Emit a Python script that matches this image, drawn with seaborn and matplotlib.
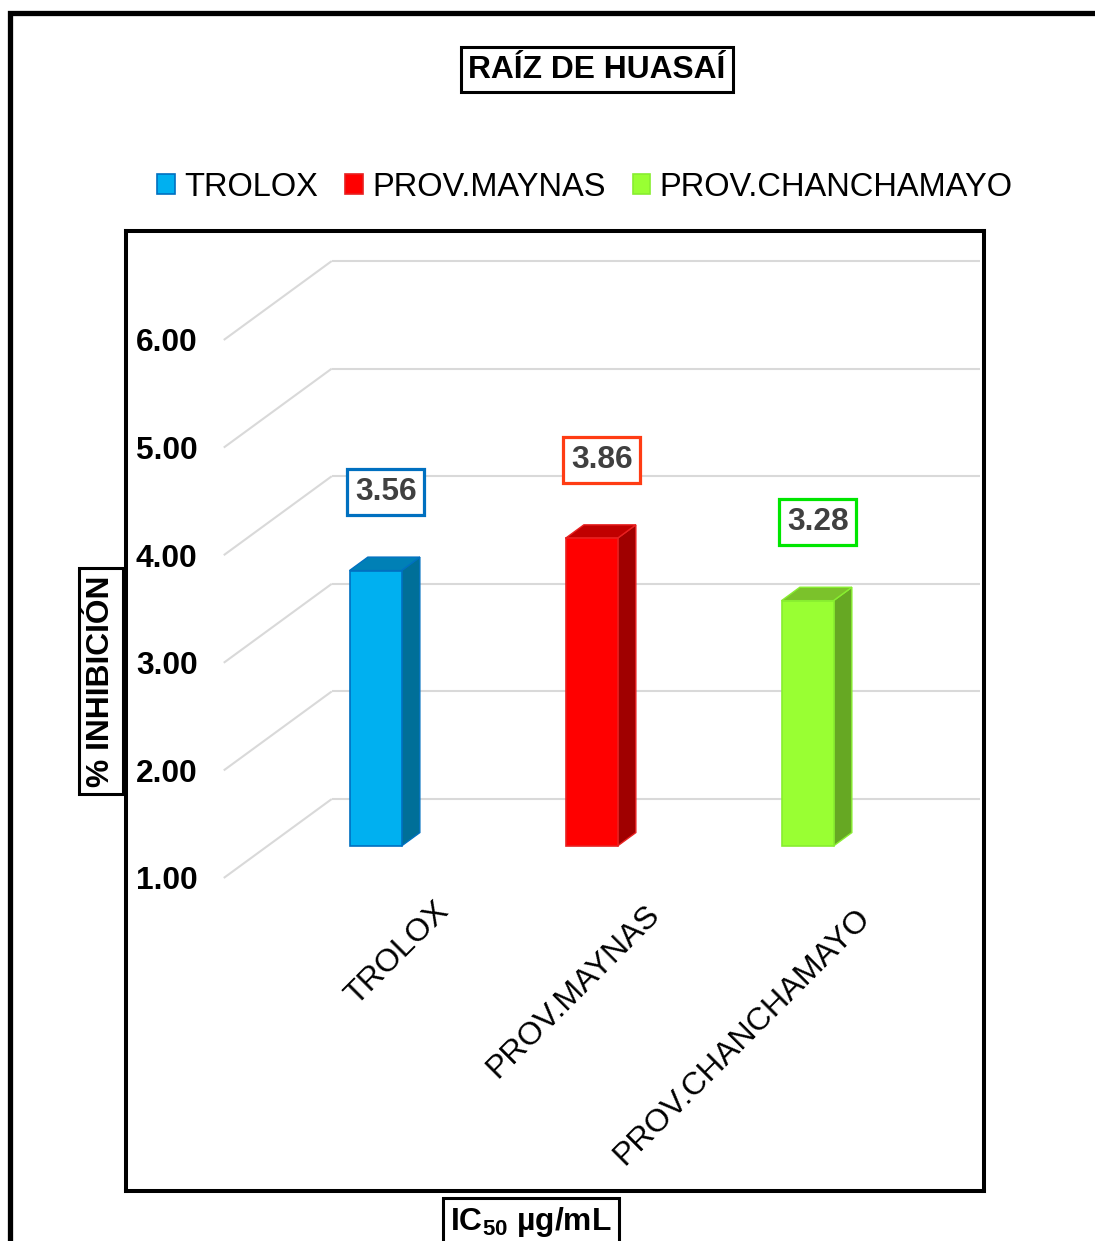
import matplotlib
matplotlib.use("Agg")
import matplotlib.pyplot as plt
from matplotlib.patches import Polygon, Patch, Rectangle
import seaborn as sns
import pandas as pd

# ---- data -------------------------------------------------------------
categories = ["TROLOX", "PROV.MAYNAS", "PROV.CHANCHAMAYO"]
ic50_values = [3.56, 3.86, 3.28]
y_ticks = [1.0, 2.0, 3.0, 4.0, 5.0, 6.0]
y_tick_labels = ["1.00", "2.00", "3.00", "4.00", "5.00", "6.00"]
axis_base = 1.0

front_colors = ["#00B0F0", "#FF0000", "#99FF33"]
side_colors = ["#006F98", "#A00000", "#66A823"]
top_colors = ["#0080B6", "#C00000", "#7BC22B"]
edge_colors = ["#0070C0", "#E82020", "#88EE30"]
label_box_colors = ["#0070C0", "#FF3C14", "#00E600"]

# ---- style -------------------------------------------------------------
sns.set_theme(style="white")
plt.rcParams["font.family"] = ["Liberation Sans", "DejaVu Sans"]
plt.rcParams["text.color"] = "black"
plt.rcParams["mathtext.fontset"] = "custom"
plt.rcParams["mathtext.rm"] = "Liberation Sans:bold"
plt.rcParams["mathtext.it"] = "Liberation Sans:bold"
plt.rcParams["mathtext.bf"] = "Liberation Sans:bold"

W, H, DPI = 1095, 1241, 100
FS = 22.9       # bold labels (points)
FS_LEG = 23.5   # legend entries
FS_CAT = 23.2   # category labels

fig = plt.figure(figsize=(W / DPI, H / DPI), dpi=DPI)
fig.patch.set_facecolor("white")

# plot-area box in pixels
L, R, T, B = 126, 984, 231, 1191
ax = fig.add_axes([L / W, 1 - B / H, (R - L) / W, (B - T) / H])

# oblique projection: depth z in [0, 1] from the front plane to the back wall,
# data coordinates are those of the plane the bars sit on (z = Z_BAR)
DX, DY, Z_BAR = 0.5, 0.734, 0.405
BAR_DEPTH = 0.17


def proj(x, y, z):
    return x + (z - Z_BAR) * DX, y + (z - Z_BAR) * DY


x_px_per_unit = 216.0
y_px_per_unit = 107.6
x0_px, base_px = 375.5, 846.0

# ---- bars (front faces) ------------------------------------------------
df = pd.DataFrame({"cat": categories,
                   "height": [v - axis_base for v in ic50_values]})
bar_w = 52 / x_px_per_unit
sns.barplot(data=df, x="cat", y="height", hue="cat", palette=front_colors,
            saturation=1, width=bar_w, legend=False, ax=ax,
            bottom=axis_base, linewidth=1.2, zorder=4)
for p, ec in zip(ax.patches, edge_colors):
    p.set_edgecolor(ec)

ax.set_xlim((L - x0_px) / x_px_per_unit, (R - x0_px) / x_px_per_unit)
ax.set_ylim(axis_base - (B - base_px) / y_px_per_unit,
            axis_base + (base_px - T) / y_px_per_unit)

# ---- gridlines: side wall diagonals and back wall horizontals ----------
wall_left, wall_right = -0.5, 2.5
grid_kw = dict(color="#D9D9D9", lw=1.5, zorder=1, solid_capstyle="butt")
for t in y_ticks:
    xa, ya = proj(wall_left, t, 0.0)
    xb, yb = proj(wall_left, t, 1.0)
    xc, yc = proj(wall_right, t, 1.0)
    ax.plot([xa, xb], [ya, yb], **grid_kw)
    ax.plot([xb, xc], [yb, yc], **grid_kw)

# side and top faces, value labels
ddx, ddy = BAR_DEPTH * DX, BAR_DEPTH * DY
for i, v in enumerate(ic50_values):
    xl, xr = i - bar_w / 2, i + bar_w / 2
    side = Polygon([(xr, axis_base), (xr, v), (xr + ddx, v + ddy),
                    (xr + ddx, axis_base + ddy)], closed=True,
                   facecolor=side_colors[i], edgecolor=edge_colors[i],
                   lw=1.0, zorder=3)
    top = Polygon([(xl, v), (xr, v), (xr + ddx, v + ddy), (xl + ddx, v + ddy)],
                  closed=True, facecolor=top_colors[i],
                  edgecolor=edge_colors[i], lw=1.0, zorder=3)
    ax.add_patch(side)
    ax.add_patch(top)
    ax.text(i + 0.047, v + 0.73, f"{v:.2f}", ha="center", va="center",
            fontsize=FS, fontweight="bold", color="#404040", zorder=6,
            bbox=dict(boxstyle="square,pad=0.25", facecolor="white",
                      edgecolor=label_box_colors[i], linewidth=2.3))

# ---- axes decoration ---------------------------------------------------
front_ticks = [proj(0, t, 0.0)[1] for t in y_ticks]
ax.set_yticks(front_ticks, labels=y_tick_labels)
ax.tick_params(axis="y", length=0, pad=-51.5, labelsize=FS)
for lab in ax.get_yticklabels():
    lab.set_fontweight("bold")
    lab.set_color("black")
    lab.set_horizontalalignment("right")
ax.set_xticks([])
ax.set_xlabel("")
ax.set_ylabel("")

# category labels, rotated and anchored at their right end
for i, name in enumerate(categories):
    n = len(name)
    ax.text(i + (76 - 1.15 * n) / x_px_per_unit,
            axis_base - (56 + 0.7 * n) / y_px_per_unit, name, rotation=45,
            rotation_mode="anchor", ha="right", va="center",
            fontsize=FS_CAT, color="black", zorder=5)

for s in ax.spines.values():
    s.set_visible(True)
    s.set_color("black")
    s.set_linewidth(2.9)

# ---- title, legend, axis titles ---------------------------------------
fig.text(597 / W, 1 - 69.5 / H, "RAÍZ DE HUASAÍ", ha="center", va="center",
         fontsize=FS, fontweight="bold", color="black",
         bbox=dict(boxstyle="square,pad=0.24", facecolor="white",
                   edgecolor="black", linewidth=2.2))

handles = [Patch(facecolor=fc, edgecolor=ec, linewidth=1.2, label=c)
           for fc, ec, c in zip(front_colors, edge_colors, categories)]
fig.legend(handles=handles, loc="center", ncol=3,
           bbox_to_anchor=(585 / W, 1 - 187 / H), frameon=False,
           fontsize=FS_LEG, handlelength=0.53, handleheight=0.53,
           handletextpad=0.28, columnspacing=0.85, borderaxespad=0,
           labelcolor="black")

fig.text(101 / W, 1 - 681 / H, "% INHIBICIÓN", rotation=90, ha="center",
         va="center", fontsize=FS, fontweight="bold", color="black",
         bbox=dict(boxstyle="square,pad=0.22", facecolor="white",
                   edgecolor="black", linewidth=2.2), zorder=10)

fig.text(531 / W, 1 - 1222 / H, r"IC$_{50}$ µg/mL", ha="center",
         va="center", fontsize=FS, fontweight="bold", color="black",
         bbox=dict(boxstyle="square,pad=0.22", facecolor="white",
                   edgecolor="black", linewidth=2.2), zorder=10)

# outer chart frame (runs past the right and bottom edges)
fig.patches.append(Rectangle((9.5 / W, -0.05), 1.2, 1 - 12.5 / H + 0.05,
                             transform=fig.transFigure, fill=False,
                             edgecolor="black", linewidth=3.8, zorder=0))

fig.savefig("out.png", dpi=DPI)
